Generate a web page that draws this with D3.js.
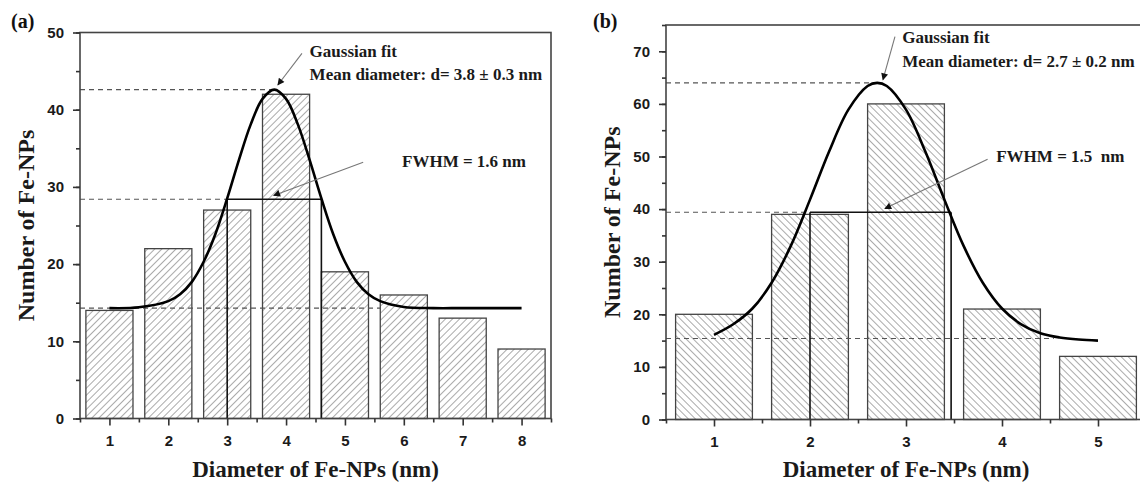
<!DOCTYPE html>
<html>
<head>
<meta charset="utf-8">
<script src="https://cdn.jsdelivr.net/npm/d3@7"></script>
<style>
  body { margin: 0; background: #fff; }
  svg { display: block; }
</style>
</head>
<body>
<svg id="chart" width="1140" height="484"></svg>
<script>
// ---- data ----
// panel (a)
const binsA = [1, 2, 3, 4, 5, 6, 7, 8];
const countsA = [14, 22, 27, 42, 19, 16, 13, 9];
const fitXA = [1, 1.5, 2, 2.2, 2.4, 2.6, 2.8, 3.0, 3.2, 3.4, 3.6, 3.8, 4.0, 4.2, 4.4, 4.6, 4.8, 5.0, 5.2, 5.4, 5.6, 6, 6.5, 7, 8];
const fitYA = [14.3, 14.4, 15.2, 16.1, 17.7, 20.3, 23.9, 28.5, 33.5, 38.1, 41.4, 42.6, 41.4, 38.1, 33.5, 28.5, 23.9, 20.3, 17.7, 16.1, 15.2, 14.45, 14.3, 14.3, 14.3];
const yTicksA = [0, 10, 20, 30, 40, 50];
const levelsA = [42.6, 28.4, 14.3];        // peak, half max, offset (dashed guides)
const levelEndsA = [3.8, 3.0, 5.6];        // where each dashed guide stops
const fwhmA = [3.0, 4.6];
const notesA = ["Gaussian fit", "Mean diameter: d= 3.8 \u00b1 0.3 nm", "FWHM = 1.6 nm"];

// panel (b)
const binsB = [1, 2, 3, 4, 5];
const countsB = [20, 39, 60, 21, 12];
const fitXB = [1.0, 1.2, 1.4, 1.6, 1.8, 2.0, 2.2, 2.4, 2.6, 2.7, 2.8, 3.0, 3.2, 3.4, 3.6, 3.8, 4.0, 4.2, 4.4, 4.6, 4.8, 5.0];
const fitYB = [16.1, 18.1, 21.1, 26.0, 33.0, 41.8, 51.0, 58.9, 63.4, 64.0, 63.4, 58.9, 51.0, 41.8, 33.0, 26.0, 21.1, 18.1, 16.4, 15.6, 15.2, 15.0];
const yTicksB = [0, 10, 20, 30, 40, 50, 60, 70];
const levelsB = [64.0, 39.4, 15.4];
const levelEndsB = [2.7, 2.0, 4.54];
const fwhmB = [2.0, 3.47];
const notesB = ["Gaussian fit", "Mean diameter: d= 2.7 \u00b1 0.2 nm", "FWHM = 1.5  nm"];

const xTitle = "Diameter of Fe-NPs (nm)";
const yTitle = "Number of Fe-NPs";

const svg = d3.select("#chart");
const serif = "'Liberation Serif', 'Times New Roman', serif";
const sans = "'Liberation Sans', Arial, sans-serif";

// hatch patterns
const defs = svg.append("defs");
function hatch(id, angle) {
  const p = defs.append("pattern")
    .attr("id", id)
    .attr("patternUnits", "userSpaceOnUse")
    .attr("width", 5).attr("height", 5)
    .attr("patternTransform", "rotate(" + angle + ")");
  p.append("rect").attr("width", 5).attr("height", 5).attr("fill", "#fff");
  p.append("line")
    .attr("x1", 0).attr("y1", 0).attr("x2", 0).attr("y2", 5)
    .attr("stroke", "#555").attr("stroke-width", 1);
}
hatch("hatchA", 45);
hatch("hatchB", -45);

defs.append("marker")
  .attr("id", "arrowHead")
  .attr("viewBox", "0 0 10 10")
  .attr("refX", 9).attr("refY", 5)
  .attr("markerWidth", 9).attr("markerHeight", 7)
  .attr("markerUnits", "userSpaceOnUse")
  .attr("orient", "auto")
  .append("path")
  .attr("d", "M0,0 L10,5 L0,10 Z")
  .attr("fill", "#111");

function drawPanel(cfg) {
  const x = d3.scaleLinear().domain(cfg.xDomain).range(cfg.xRange);
  const y = d3.scaleLinear().domain(cfg.yDomain).range(cfg.yRange);
  const g = svg.append("g");
  const barW = 0.8;

  // bars
  g.selectAll("rect.bar")
    .data(cfg.bins.map((b, i) => ({bin: b, count: cfg.counts[i]})))
    .join("rect")
    .attr("class", "bar")
    .attr("x", d => x(d.bin - barW / 2))
    .attr("width", d => x(d.bin + barW / 2) - x(d.bin - barW / 2))
    .attr("y", d => y(d.count))
    .attr("height", d => y(0) - y(d.count))
    .attr("fill", "url(#" + cfg.hatch + ")")
    .attr("stroke", "#444")
    .attr("stroke-width", 1.3);

  // dashed guides
  g.selectAll("line.guide")
    .data(cfg.levels.map((v, i) => ({v: v, end: cfg.levelEnds[i]})))
    .join("line")
    .attr("class", "guide")
    .attr("x1", x(cfg.xDomain[0])).attr("x2", d => x(d.end))
    .attr("y1", d => y(d.v)).attr("y2", d => y(d.v))
    .attr("stroke", "#555").attr("stroke-width", 1.1)
    .attr("stroke-dasharray", "5,4");

  // FWHM markers
  const half = cfg.levels[1];
  cfg.fwhm.forEach(v => {
    g.append("line")
      .attr("x1", x(v)).attr("x2", x(v))
      .attr("y1", y(0)).attr("y2", y(half))
      .attr("stroke", "#111").attr("stroke-width", 1.6);
  });
  g.append("line")
    .attr("x1", x(cfg.fwhm[0])).attr("x2", x(cfg.fwhm[1]))
    .attr("y1", y(half)).attr("y2", y(half))
    .attr("stroke", "#111").attr("stroke-width", 1.6);

  // fit curve
  const line = d3.line()
    .x(d => x(d[0]))
    .y(d => y(d[1]))
    .curve(d3.curveCatmullRom);
  g.append("path")
    .datum(cfg.fitX.map((v, i) => [v, cfg.fitY[i]]))
    .attr("fill", "none")
    .attr("stroke", "#000")
    .attr("stroke-width", 2.6)
    .attr("d", line);

  // frame
  g.append("rect")
    .attr("x", x(cfg.xDomain[0])).attr("y", y(cfg.yDomain[1]))
    .attr("width", x(cfg.xDomain[1]) - x(cfg.xDomain[0]))
    .attr("height", y(cfg.yDomain[0]) - y(cfg.yDomain[1]))
    .attr("fill", "none").attr("stroke", "#444").attr("stroke-width", 1.6);

  // axes
  const minorY = d3.range(cfg.yDomain[0], cfg.yDomain[1] + 0.1, 5);
  const minorX = d3.range(cfg.xDomain[0], cfg.xDomain[1] + 0.01, 1);
  const styleAxis = sel => {
    sel.select(".domain").remove();
    sel.selectAll("line").attr("stroke", "#333").attr("stroke-width", 1.6);
    sel.selectAll("text")
      .attr("fill", "#1a1a1a")
      .style("font-family", sans)
      .style("font-weight", "bold")
      .style("font-size", "15px");
  };
  g.append("g")
    .attr("transform", "translate(" + x(cfg.xDomain[0]) + ",0)")
    .call(d3.axisLeft(y).tickValues(minorY).tickSize(4).tickFormat(""))
    .call(styleAxis);
  g.append("g")
    .attr("transform", "translate(" + x(cfg.xDomain[0]) + ",0)")
    .call(d3.axisLeft(y).tickValues(cfg.yTicks).tickSize(7).tickPadding(9))
    .call(styleAxis);
  g.append("g")
    .attr("transform", "translate(0," + y(0) + ")")
    .call(d3.axisBottom(x).tickValues(minorX).tickSize(4).tickFormat(""))
    .call(styleAxis);
  g.append("g")
    .attr("transform", "translate(0," + y(0) + ")")
    .call(d3.axisBottom(x).tickValues(cfg.bins).tickSize(7).tickPadding(10).tickFormat(d3.format("d")))
    .call(styleAxis);

  // axis titles
  g.append("text")
    .attr("x", (x(cfg.xDomain[0]) + x(cfg.xDomain[1])) / 2)
    .attr("y", 477)
    .attr("text-anchor", "middle")
    .style("font-family", serif).style("font-weight", "bold").style("font-size", "23px")
    .attr("fill", "#1a1a1a")
    .text(xTitle);
  g.append("text")
    .attr("transform", "translate(" + cfg.yTitleX + "," + (y(cfg.yDomain[0]) + y(cfg.yDomain[1])) / 2 + ") rotate(-90)")
    .attr("text-anchor", "middle")
    .style("font-family", serif).style("font-weight", "bold").style("font-size", "24px")
    .attr("fill", "#1a1a1a")
    .text(yTitle);

  // panel tag
  g.append("text")
    .attr("x", cfg.tagX).attr("y", 28)
    .style("font-family", serif).style("font-weight", "bold").style("font-size", "20px")
    .attr("fill", "#111")
    .text(cfg.tag);

  // annotations
  const note = (t, p) => g.append("text")
    .attr("x", x(p[0])).attr("y", y(p[1]))
    .style("font-family", serif).style("font-weight", "bold").style("font-size", "17px")
    .style("white-space", "pre")
    .attr("fill", "#1a1a1a")
    .text(t);
  note(cfg.notes[0], cfg.notePos[0]);
  note(cfg.notes[1], cfg.notePos[1]);
  note(cfg.notes[2], cfg.notePos[2]);

  cfg.arrows.forEach(a => {
    g.append("line")
      .attr("x1", x(a[0])).attr("y1", y(a[1]))
      .attr("x2", x(a[2])).attr("y2", y(a[3]))
      .attr("stroke", "#777").attr("stroke-width", 1.1)
      .attr("marker-end", "url(#arrowHead)");
  });
}

drawPanel({
  tag: "(a)", tagX: 11, hatch: "hatchA", yTitleX: 34,
  bins: binsA, counts: countsA, fitX: fitXA, fitY: fitYA,
  yTicks: yTicksA, levels: levelsA, levelEnds: levelEndsA, fwhm: fwhmA,
  xDomain: [0.5, 8.5], xRange: [80, 551],
  yDomain: [0, 50], yRange: [418.5, 32.5],
  notes: notesA,
  notePos: [[4.4, 46.8], [4.4, 43.9], [5.97, 32.6]],
  arrows: [[4.27, 47.3, 3.86, 43.2], [5.31, 33.2, 3.79, 28.9]]
});

drawPanel({
  tag: "(b)", tagX: 593, hatch: "hatchB", yTitleX: 620,
  bins: binsB, counts: countsB, fitX: fitXB, fitY: fitYB,
  yTicks: yTicksB, levels: levelsB, levelEnds: levelEndsB, fwhm: fwhmB,
  xDomain: [0.5, 5.5], xRange: [666, 1146],
  yDomain: [0, 75], yRange: [419.5, 25],
  notes: notesB,
  notePos: [[2.96, 71.5], [2.96, 67.1], [3.94, 49.0]],
  arrows: [[2.885, 72.8, 2.76, 64.6], [3.85, 49.5, 2.78, 40.1]]
});
</script>
</body>
</html>
